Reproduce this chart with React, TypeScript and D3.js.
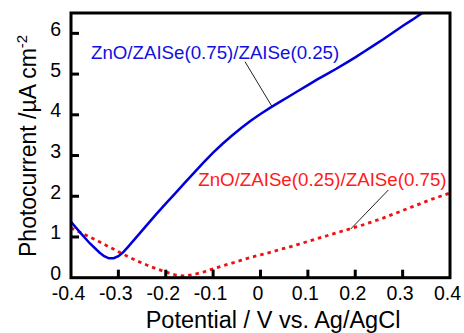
import React from "react";
import * as d3 from "d3";

const potential = [-0.4,-0.38,-0.36,-0.34,-0.33,-0.32,-0.31,-0.3,-0.29,-0.28,-0.26,-0.24,-0.22,-0.2,-0.18,-0.16,-0.14,-0.12,-0.1,-0.08,-0.06,-0.04,-0.02,0,0.02,0.04,0.06,0.08,0.1,0.12,0.14,0.16,0.18,0.2,0.22,0.24,0.26,0.28,0.3,0.32,0.34,0.36];
const blueSeries = [1.37,1.1,0.84,0.62,0.53,0.475,0.48,0.53,0.62,0.75,1.02,1.29,1.56,1.82,2.07,2.33,2.58,2.83,3.07,3.29,3.49,3.68,3.86,4.02,4.17,4.31,4.45,4.59,4.73,4.87,5.0,5.13,5.27,5.41,5.56,5.71,5.86,6.02,6.18,6.33,6.49,6.65];

const potentialRed = [-0.4,-0.38,-0.36,-0.34,-0.32,-0.3,-0.28,-0.26,-0.24,-0.22,-0.2,-0.18,-0.16,-0.14,-0.12,-0.1,-0.08,-0.06,-0.04,-0.02,0,0.02,0.04,0.06,0.08,0.1,0.12,0.14,0.16,0.18,0.2,0.22,0.24,0.26,0.28,0.3,0.32,0.34,0.36,0.38,0.4];
const redSeries = [1.22,1.11,1.0,0.88,0.76,0.64,0.52,0.41,0.31,0.22,0.14,0.07,0.04,0.08,0.14,0.22,0.29,0.36,0.43,0.5,0.56,0.62,0.69,0.75,0.82,0.89,0.96,1.03,1.1,1.17,1.24,1.31,1.39,1.47,1.56,1.65,1.74,1.83,1.92,2.0,2.08];

const xTicks = [-0.4,-0.3,-0.2,-0.1,0,0.1,0.2,0.3,0.4];
const xTickLabels = ["-0.4","-0.3","-0.2","-0.1","0","0.1","0.2","0.3","0.4"];
const yTicks = [0,1,2,3,4,5,6];

const blueLabel = "ZnO/ZAISe(0.75)/ZAISe(0.25)";
const redLabel = "ZnO/ZAISe(0.25)/ZAISe(0.75)";

const L = 71, R = 450, T = 13, B = 277.7;
const FONT = "Liberation Sans, Arial, sans-serif";

export default function App() {
  const x = d3.scaleLinear().domain([-0.4, 0.4]).range([L, R]);
  const y = d3.scaleLinear().domain([0, 6.5]).range([B, T]);
  const line = d3.line<[number, number]>().x(d => x(d[0])).y(d => y(d[1]));
  const blueData = potential.map((p, i) => [p, blueSeries[i]] as [number, number]);
  const redData = potentialRed.map((p, i) => [p, redSeries[i]] as [number, number]);

  return (
    <svg width={464} height={333} style={{ position: "absolute", left: 0, top: 0 }} fontFamily={FONT}>
      <defs>
        <clipPath id="plot">
          <rect x={L} y={T} width={R - L} height={B - T} />
        </clipPath>
      </defs>
      <rect width={464} height={333} fill="#fff" />
      <g clipPath="url(#plot)">
        <path d={line(redData) || ""} fill="none" stroke="#f01010" strokeWidth={2.8} strokeDasharray="3.5 4" />
        <path d={line(blueData) || ""} fill="none" stroke="#0000d8" strokeWidth={2.5} />
      </g>
      {xTicks.map((t, i) => (
        <g key={"x" + i}>
          {i > 0 && i < xTicks.length - 1 && (
            <line x1={x(t)} x2={x(t)} y1={B} y2={B - 8} stroke="#000" strokeWidth={3} />
          )}
          <text x={x(t) - 2.5} y={300} fontSize={19.5} textAnchor="middle" fill="#000">{xTickLabels[i]}</text>
        </g>
      ))}
      {yTicks.map((t, i) => (
        <g key={"y" + i}>
          {t > 0 && <line x1={L} x2={L + 8} y1={y(t)} y2={y(t)} stroke="#000" strokeWidth={3} />}
          <text x={61} y={y(t) + 2.5} fontSize={19.5} textAnchor="end" fill="#000">{t}</text>
        </g>
      ))}
      <rect x={L} y={T} width={R - L} height={B - T} fill="none" stroke="#000" strokeWidth={3} />
      <line x1={245} y1={61.7} x2={271.7} y2={106} stroke="#222" strokeWidth={1} />
      <text x={91} y={58.5} fontSize={18.7} fill="#1010e0">{blueLabel}</text>
      <line x1={325 / 3 + 280} y1={190} x2={350.7} y2={229} stroke="#222" strokeWidth={1} />
      <text x={198.3} y={186} fontSize={18.7} fill="#ff1a1a">{redLabel}</text>
      <text x={273} y={327.5} fontSize={23.5} textAnchor="middle" fill="#000">Potential / V vs. Ag/AgCl</text>
      <text transform="translate(35.5,257) rotate(-90)" fontSize={23} fill="#000">
        Photocurrent /µA cm<tspan fontSize={15} dy={-9}>-2</tspan>
      </text>
    </svg>
  );
}
